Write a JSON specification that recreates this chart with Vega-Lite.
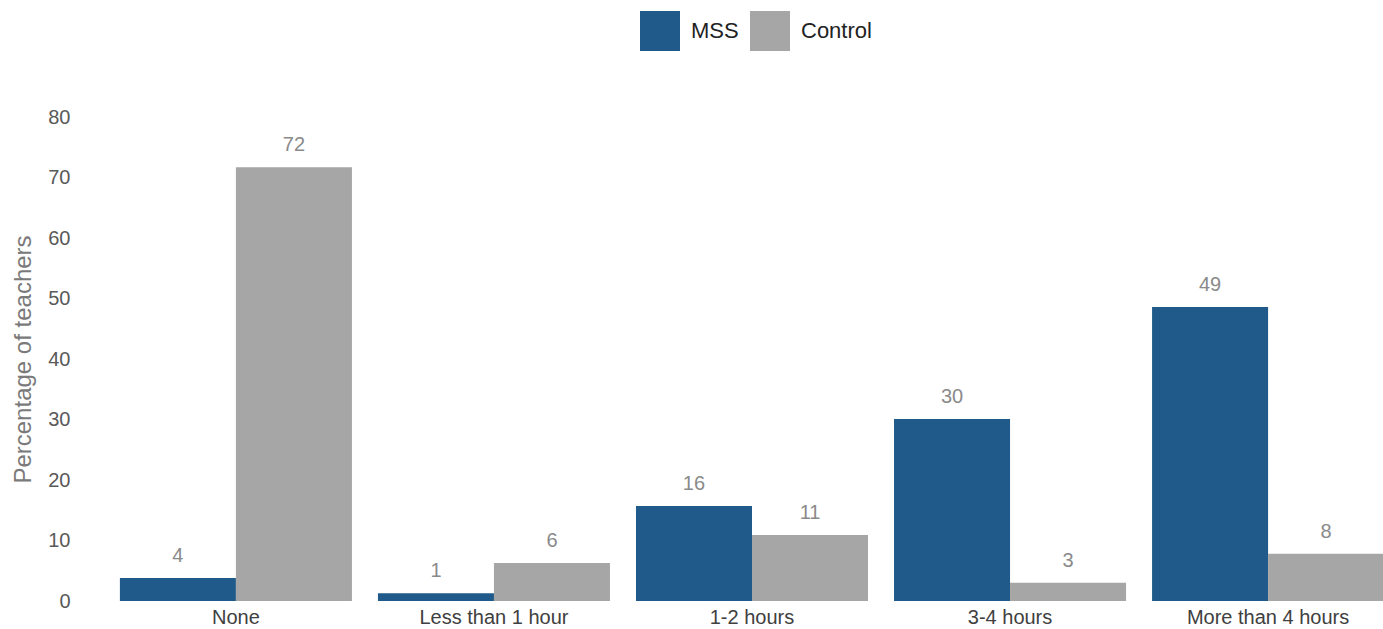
{
  "$schema": "https://vega.github.io/schema/vega-lite/v6.json",
  "autosize": {"type": "none"},
  "padding": {"left": 107, "top": 117, "right": 0, "bottom": 28},
  "width": 1290,
  "height": 484,
  "background": "white",
  "config": {"view": {"stroke": null}, "font": "Liberation Sans"},
  "data": {"values": [
    {"cat": "None", "group": "MSS", "value": 3.8},
    {"cat": "None", "group": "Control", "value": 71.7},
    {"cat": "Less than 1 hour", "group": "MSS", "value": 1.3},
    {"cat": "Less than 1 hour", "group": "Control", "value": 6.3},
    {"cat": "1-2 hours", "group": "MSS", "value": 15.7},
    {"cat": "1-2 hours", "group": "Control", "value": 10.9},
    {"cat": "3-4 hours", "group": "MSS", "value": 30.1},
    {"cat": "3-4 hours", "group": "Control", "value": 3.0},
    {"cat": "More than 4 hours", "group": "MSS", "value": 48.6},
    {"cat": "More than 4 hours", "group": "Control", "value": 7.8}
  ]},
  "encoding": {
    "x": {
      "field": "cat", "type": "nominal",
      "sort": ["None", "Less than 1 hour", "1-2 hours", "3-4 hours", "More than 4 hours"],
      "scale": {"paddingInner": 0.1008, "paddingOuter": 0.05},
      "axis": {"title": null, "labelAngle": 0, "domain": false, "ticks": false, "labelPadding": 6, "labelFontSize": 20, "labelColor": "#404040"}
    },
    "xOffset": {"field": "group", "type": "nominal", "sort": ["MSS", "Control"], "scale": {"paddingInner": 0, "paddingOuter": 0}},
    "y": {
      "field": "value", "type": "quantitative",
      "scale": {"domain": [0, 80]},
      "axis": {"title": "Percentage of teachers", "values": [0,10,20,30,40,50,60,70,80], "domain": false, "ticks": false, "grid": false, "labelPadding": 37, "labelFontSize": 20, "labelColor": "#595959", "titleFontSize": 24, "titleFontWeight": "normal", "titleColor": "#7a7a7a", "titlePadding": 12}
    }
  },
  "layer": [
    {
      "mark": {"type": "bar"},
      "encoding": {
        "color": {
          "field": "group", "type": "nominal",
          "scale": {"domain": ["MSS", "Control"], "range": ["#1F5A8A", "#A6A6A6"]},
          "legend": {"title": null, "orient": "none", "direction": "horizontal", "legendX": 533, "legendY": -106, "symbolType": "square", "symbolSize": 1600, "symbolStrokeWidth": 0, "labelFontSize": 22, "labelColor": "#222222", "labelOffset": 11, "columnPadding": 11, "symbolOpacity": 1}
        }
      }
    },
    {
      "mark": {"type": "text", "baseline": "bottom", "dy": -12, "fontSize": 20, "color": "#8a8a8a"},
      "encoding": {"text": {"field": "value", "type": "quantitative", "format": ".0f"}}
    }
  ]
}
